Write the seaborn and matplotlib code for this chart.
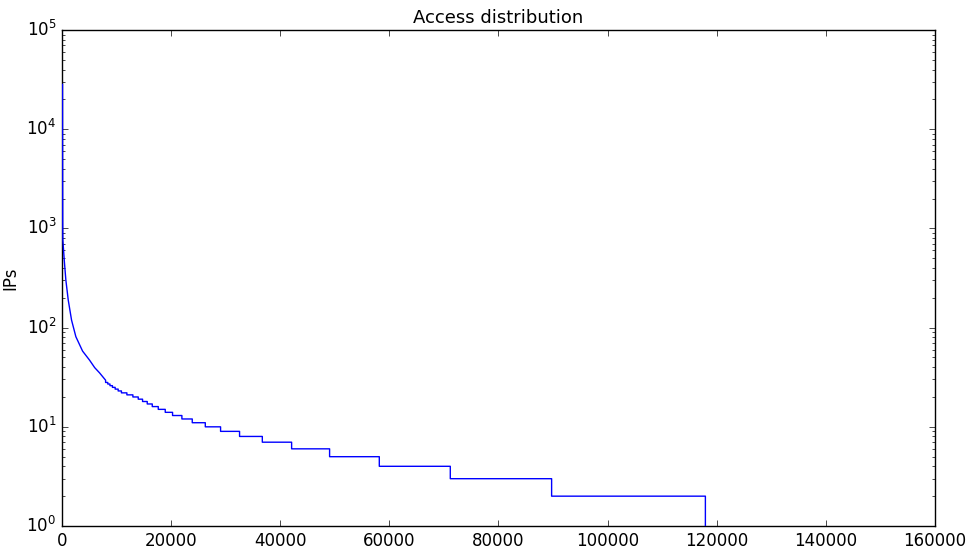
import matplotlib
matplotlib.use("Agg")
import matplotlib.pyplot as plt
import seaborn as sns
import pandas as pd

# Smooth head of the curve: (IP rank, number of accesses)
head_rank = [100, 110, 125, 140, 165, 420, 715, 1150, 1760, 2550, 3780, 5060, 6000, 6890, 8000]
head_ips = [28300, 10000, 3000, 1200, 764, 480, 302, 190, 119, 81, 58, 47, 39.5, 35, 29.5]

# Step tail: access level and the rank where that level ends
levels = [28, 27, 26, 25, 24, 23, 22, 21, 20, 19, 18, 17, 16, 15, 14, 13, 12, 11, 10,
          9, 8, 7, 6, 5, 4, 3, 2]
level_end = [8400, 8800, 9250, 9750, 10300, 10900, 11900, 13000, 13980, 14770, 15630,
             16550, 17650, 18930, 20270, 21980, 23880, 26270, 29070, 32550, 36720,
             42090, 49050, 58160, 71170, 89740, 117920]

title = "Access distribution"
ylabel = "IPs"
xticks = [0, 20000, 40000, 60000, 80000, 100000, 120000, 140000, 160000]

# Build the line vertices
xs = list(head_rank)
ys = list(head_ips)
start = head_rank[-1]
for lv, end in zip(levels, level_end):
    xs += [start, end]
    ys += [lv, lv]
    start = end
xs.append(start)
ys.append(1)
df = pd.DataFrame({"rank": xs, "ips": ys})

plt.style.use("classic")
plt.rcParams.update({
    "font.family": ["DejaVu Sans"],
    "mathtext.fontset": "dejavusans",
    "font.size": 12,
    "savefig.facecolor": "white",
    "figure.facecolor": "white",
})

fig = plt.figure(figsize=(9.68, 5.48), dpi=100)
ax = fig.add_axes([0.0640, 0.0401, 0.9019, 0.9051])
sns.lineplot(data=df, x="rank", y="ips", sort=False, estimator=None,
             color="#0000ff", linewidth=1.0, ax=ax, zorder=3)
ax.set_yscale("log")
ax.set_xlim(0, 160000)
ax.set_ylim(1, 1e5)
ax.set_xticks(xticks)
ax.set_xticklabels([str(t) for t in xticks])
ax.set_xlabel("")
ax.set_ylabel(ylabel)
ax.set_title(title, fontsize=13)
ax.tick_params(which="both", direction="in", top=True, right=True)

fig.savefig("out.png", dpi=100)
